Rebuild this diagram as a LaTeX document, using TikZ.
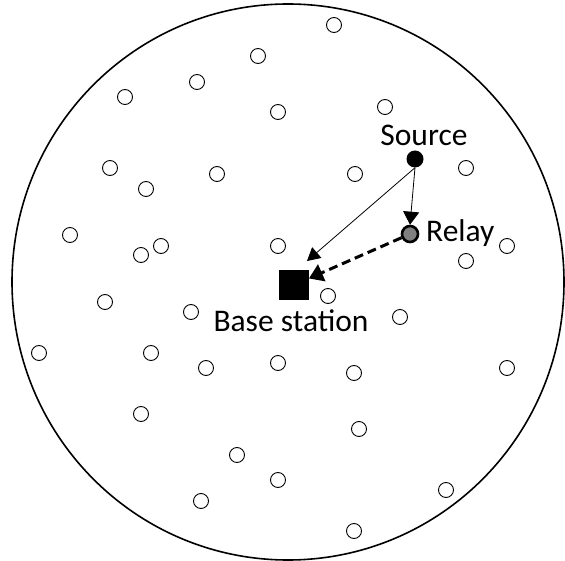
\documentclass[tikz,border=0pt]{standalone}
\usepackage{fontspec}
\setsansfont{Carlito}
\usetikzlibrary{arrows.meta,positioning}
\definecolor{netInk}{HTML}{000000}
\definecolor{netRelay}{HTML}{808080}
\tikzset{
  every picture/.style={font=\sffamily\fontsize{31.5}{36}\selectfont, text=netInk},
  net area/.style={draw=netInk, line width=1.6pt},
  net node/.style={circle, draw=netInk, line width=0.9pt, fill=white,
    minimum size=15pt, inner sep=0pt},
  net source/.style={circle, fill=netInk, minimum size=17pt, inner sep=0pt},
  net relay/.style={circle, draw=netInk, fill=netRelay, line width=2.6pt,
    minimum size=16pt, inner sep=0pt},
  net bs/.style={rectangle, fill=netInk, minimum size=29.5pt, inner sep=0pt},
  net label/.style={inner sep=0pt},
  net direct/.style={-{Triangle[length=13pt,width=14pt]}, draw=netInk,
    line width=0.8pt},
  net hop/.style={-{Triangle[length=13pt,width=16pt]}, draw=netInk,
    line width=0.8pt},
  net relayed/.style={-{Triangle[length=14pt,width=18pt]}, draw=netInk,
    line width=3pt, dash pattern=on 9pt off 5pt, line cap=butt}
}
\begin{document}
\begin{tikzpicture}[x=1pt,y=-1pt]
  \useasboundingbox (0,0) rectangle (565,561);
  % coverage area
  \draw[net area] (288,282) ellipse [x radius=276, y radius=278];
  % idle nodes
  \foreach \px/\py [count=\i] in {334/25, 258/56, 197/82, 125/97, 278/112,
      385/107, 110/168, 146/189, 217/174, 355/174, 466/168, 70/235,
      161/246, 141/255, 278/246, 507/246, 466/261, 105/302, 191/312,
      328/296, 400/317, 39/353, 151/353, 206/368, 278/363, 354/373,
      507/368, 141/414, 359/429, 237/455, 278/480, 446/490, 201/501,
      354/531}
    \node[net node] (n\i) at (\px,\py) {};
  % source, relay and base station
  \node[net source] (src) at (415,159) {};
  \node[net relay] (relay) at (410,234) {};
  \node[net bs] (bs) at (294,285) {};
  \node[net label, anchor=base] (srclbl) at (424,146) {Source};
  \node[net label, anchor=base west] (relaylbl) at (426,242) {Relay};
  \node[net label, anchor=base] (bslbl) at (291,332) {Base station};
  % links
  \draw[net direct] (src.south) -- ([shift={(-2,-9)}]bs.north east);
  \draw[net hop] (src.south) -- (relay.north);
  \draw[net relayed] (relay) -- (bs);
\end{tikzpicture}
\end{document}
